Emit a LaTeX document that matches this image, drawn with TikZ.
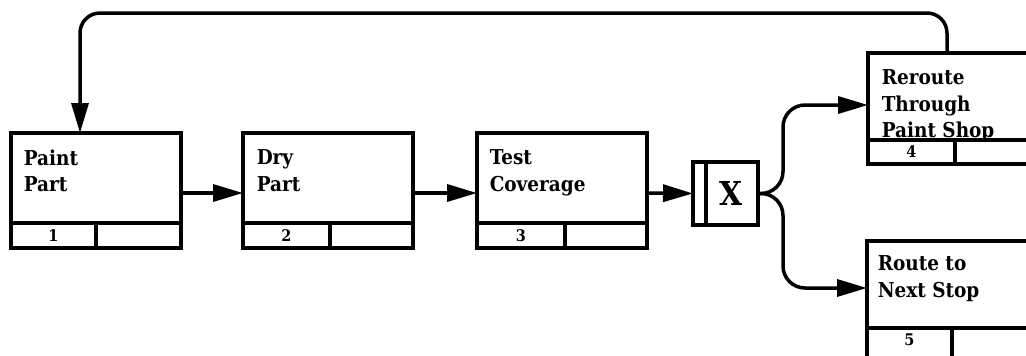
\documentclass[tikz,border=0pt]{standalone}
\usepackage{fontspec}
\setmainfont{DejaVu Serif}[FakeStretch=0.9]
\usetikzlibrary{arrows.meta}
\begin{document}
\begin{tikzpicture}[x=1pt,y=-1pt,line width=3.5pt,
  mainbox/.style={draw,rectangle,line width=3.5pt,minimum width=170pt,minimum height=90pt,anchor=north west,inner sep=0pt,outer sep=0pt},
  cellbox/.style={draw,rectangle,line width=3.5pt,minimum height=25pt,inner sep=0pt,outer sep=0pt,font=\fontsize{16}{16}\selectfont\bfseries},
  lbl/.style={anchor=north west,align=left,inner sep=0pt,font=\fontsize{20.5}{26.5}\selectfont\bfseries},
  arr/.style={-{Triangle[length=30pt,width=17pt]},line width=3.5pt}]
\useasboundingbox (0,0) rectangle (1026,356);
\clip (0,0) rectangle (1026,356);
% box 1
\node[mainbox] (b1) at (11,133) {};
\node[cellbox,anchor=north west,minimum width=85pt] (n1) at (b1.south west) {1};
\node[cellbox,anchor=north east,minimum width=85pt] (e1) at (b1.south east) {};
\node[lbl] (t1) at ([shift={(11pt,-15pt)}]b1.north west) {Paint\\Part};
% box 2
\node[mainbox] (b2) at (243,133) {};
\node[cellbox,anchor=north west,minimum width=87pt] (n2) at (b2.south west) {2};
\node[cellbox,anchor=north east,minimum width=83pt] (e2) at (b2.south east) {};
\node[lbl] (t2) at ([shift={(12pt,-15pt)}]b2.north west) {Dry\\Part};
% box 3
\node[mainbox] (b3) at (477,133) {};
\node[cellbox,anchor=north west,minimum width=88pt] (n3) at (b3.south west) {3};
\node[cellbox,anchor=north east,minimum width=82pt] (e3) at (b3.south east) {};
\node[lbl] (t3) at ([shift={(11pt,-15pt)}]b3.north west) {Test\\Coverage};
% X box
\node[draw,rectangle,line width=3.5pt,minimum width=65pt,minimum height=63pt,anchor=north west,inner sep=0pt,outer sep=0pt] (x) at (693,162) {};
\draw[line width=3.5pt] ([xshift=13pt]x.north west) -- ([xshift=13pt]x.south west);
\node[inner sep=0pt,font=\fontsize{33}{33}\selectfont\bfseries] (xl) at ([xshift=6pt]x.center) {X};
% box 4
\node[mainbox,minimum height=87pt] (b4) at (868,53) {};
\node[cellbox,anchor=north west,minimum width=87pt,minimum height=24pt] (n4) at (b4.south west) {4};
\node[cellbox,anchor=north east,minimum width=83pt,minimum height=24pt] (e4) at (b4.south east) {};
\node[lbl] (t4) at ([shift={(12pt,-15pt)}]b4.north west) {Reroute\\Through\\Paint Shop};
% box 5
\node[mainbox,minimum height=87pt] (b5) at (867,241) {};
\node[cellbox,anchor=north west,minimum width=85pt,minimum height=32pt] (n5) at (b5.south west) {};
\node[cellbox,anchor=north east,minimum width=85pt,minimum height=32pt] (e5) at (b5.south east) {};
\node[inner sep=0pt,font=\fontsize{16}{16}\selectfont\bfseries] (n5t) at ([yshift=-12pt]n5.north) {5};
\node[lbl] (t5) at ([shift={(9pt,-13pt)}]b5.north west) {Route to\\Next Stop};
% connectors
\draw[arr] ([yshift=-15pt]b1.east) -- ([yshift=-15pt]b2.west);
\draw[arr] ([yshift=-15pt]b2.east) -- ([yshift=-15pt]b3.west);
\draw[arr] ([yshift=-15pt]b3.east) -- (x.west);
\draw[arr,rounded corners=22pt] (x.east) -| (783,105) -- (b4.west |- 0,105);
\draw[arr,rounded corners=22pt] (x.east) -| (783,288) -- (b5.west |- 0,288);
\draw[arr,rounded corners=20pt] ([xshift=-6pt]b4.north) |- (80,13) -- ([xshift=-16pt]b1.north);
\end{tikzpicture}
\end{document}
